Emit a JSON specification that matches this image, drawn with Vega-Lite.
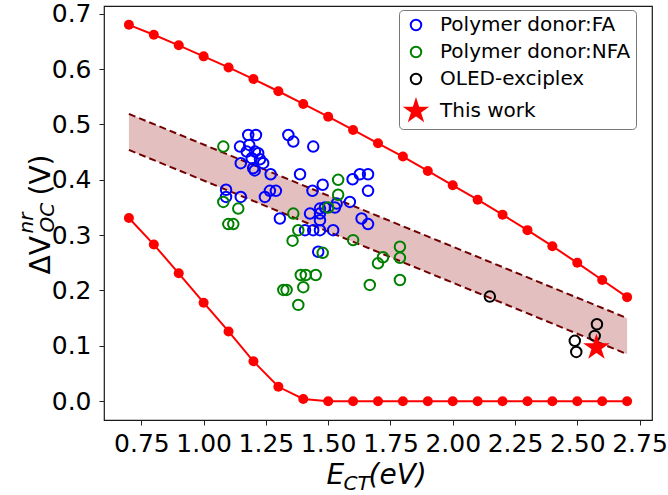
{
  "$schema": "https://vega.github.io/schema/vega-lite/v6.json",
  "width": 548,
  "height": 414,
  "autosize": {"type": "none"},
  "padding": {"left": 104, "top": 6, "right": 16, "bottom": 75},
  "background": "white",
  "config": {
    "font": "DejaVu Sans",
    "view": {"stroke": "#1a1a1a", "strokeWidth": 1.2},
    "axis": {"grid": false, "domain": false, "labelColor": "#000000", "titleColor": "#000000", "tickColor": "#222222", "labelFont": "DejaVu Sans", "titleFont": "DejaVu Sans", "titleFontWeight": "normal"}
  },
  "datasets": {
    "band": [
      {"x": 0.7, "lo": 0.454, "hi": 0.519},
      {"x": 2.7, "lo": 0.085, "hi": 0.150}
    ],
    "curves": [
      {"x": 0.7, "up": 0.680, "low": 0.331},
      {"x": 0.8, "up": 0.662, "low": 0.283},
      {"x": 0.9, "up": 0.643, "low": 0.231},
      {"x": 1.0, "up": 0.623, "low": 0.178},
      {"x": 1.1, "up": 0.603, "low": 0.126},
      {"x": 1.2, "up": 0.582, "low": 0.072},
      {"x": 1.3, "up": 0.560, "low": 0.026},
      {"x": 1.4, "up": 0.537, "low": 0.004},
      {"x": 1.5, "up": 0.514, "low": 0},
      {"x": 1.6, "up": 0.490, "low": 0},
      {"x": 1.7, "up": 0.466, "low": 0},
      {"x": 1.8, "up": 0.442, "low": 0},
      {"x": 1.9, "up": 0.416, "low": 0},
      {"x": 2.0, "up": 0.390, "low": 0},
      {"x": 2.1, "up": 0.364, "low": 0},
      {"x": 2.2, "up": 0.337, "low": 0},
      {"x": 2.3, "up": 0.309, "low": 0},
      {"x": 2.4, "up": 0.280, "low": 0},
      {"x": 2.5, "up": 0.250, "low": 0},
      {"x": 2.6, "up": 0.219, "low": 0},
      {"x": 2.7, "up": 0.188, "low": 0}
    ],
    "pts": [
      {"x": 1.09, "y": 0.382, "series": "Polymer donor:FA"},
      {"x": 1.09, "y": 0.369, "series": "Polymer donor:FA"},
      {"x": 1.146, "y": 0.460, "series": "Polymer donor:FA"},
      {"x": 1.149, "y": 0.430, "series": "Polymer donor:FA"},
      {"x": 1.149, "y": 0.369, "series": "Polymer donor:FA"},
      {"x": 1.179, "y": 0.481, "series": "Polymer donor:FA"},
      {"x": 1.210, "y": 0.481, "series": "Polymer donor:FA"},
      {"x": 1.183, "y": 0.463, "series": "Polymer donor:FA"},
      {"x": 1.173, "y": 0.451, "series": "Polymer donor:FA"},
      {"x": 1.206, "y": 0.451, "series": "Polymer donor:FA"},
      {"x": 1.219, "y": 0.448, "series": "Polymer donor:FA"},
      {"x": 1.193, "y": 0.439, "series": "Polymer donor:FA"},
      {"x": 1.226, "y": 0.437, "series": "Polymer donor:FA"},
      {"x": 1.239, "y": 0.430, "series": "Polymer donor:FA"},
      {"x": 1.199, "y": 0.421, "series": "Polymer donor:FA"},
      {"x": 1.205, "y": 0.417, "series": "Polymer donor:FA"},
      {"x": 1.269, "y": 0.410, "series": "Polymer donor:FA"},
      {"x": 1.246, "y": 0.369, "series": "Polymer donor:FA"},
      {"x": 1.266, "y": 0.380, "series": "Polymer donor:FA"},
      {"x": 1.290, "y": 0.380, "series": "Polymer donor:FA"},
      {"x": 1.306, "y": 0.330, "series": "Polymer donor:FA"},
      {"x": 1.340, "y": 0.481, "series": "Polymer donor:FA"},
      {"x": 1.360, "y": 0.469, "series": "Polymer donor:FA"},
      {"x": 1.387, "y": 0.410, "series": "Polymer donor:FA"},
      {"x": 1.440, "y": 0.460, "series": "Polymer donor:FA"},
      {"x": 1.478, "y": 0.391, "series": "Polymer donor:FA"},
      {"x": 1.437, "y": 0.380, "series": "Polymer donor:FA"},
      {"x": 1.598, "y": 0.401, "series": "Polymer donor:FA"},
      {"x": 1.627, "y": 0.410, "series": "Polymer donor:FA"},
      {"x": 1.660, "y": 0.410, "series": "Polymer donor:FA"},
      {"x": 1.660, "y": 0.380, "series": "Polymer donor:FA"},
      {"x": 1.587, "y": 0.360, "series": "Polymer donor:FA"},
      {"x": 1.634, "y": 0.330, "series": "Polymer donor:FA"},
      {"x": 1.660, "y": 0.320, "series": "Polymer donor:FA"},
      {"x": 1.467, "y": 0.348, "series": "Polymer donor:FA"},
      {"x": 1.487, "y": 0.350, "series": "Polymer donor:FA"},
      {"x": 1.527, "y": 0.350, "series": "Polymer donor:FA"},
      {"x": 1.534, "y": 0.357, "series": "Polymer donor:FA"},
      {"x": 1.427, "y": 0.339, "series": "Polymer donor:FA"},
      {"x": 1.467, "y": 0.339, "series": "Polymer donor:FA"},
      {"x": 1.467, "y": 0.327, "series": "Polymer donor:FA"},
      {"x": 1.407, "y": 0.309, "series": "Polymer donor:FA"},
      {"x": 1.440, "y": 0.309, "series": "Polymer donor:FA"},
      {"x": 1.467, "y": 0.309, "series": "Polymer donor:FA"},
      {"x": 1.520, "y": 0.309, "series": "Polymer donor:FA"},
      {"x": 1.460, "y": 0.270, "series": "Polymer donor:FA"},
      {"x": 1.079, "y": 0.460, "series": "Polymer donor:NFA"},
      {"x": 1.079, "y": 0.360, "series": "Polymer donor:NFA"},
      {"x": 1.139, "y": 0.348, "series": "Polymer donor:NFA"},
      {"x": 1.099, "y": 0.320, "series": "Polymer donor:NFA"},
      {"x": 1.119, "y": 0.320, "series": "Polymer donor:NFA"},
      {"x": 1.360, "y": 0.339, "series": "Polymer donor:NFA"},
      {"x": 1.380, "y": 0.309, "series": "Polymer donor:NFA"},
      {"x": 1.357, "y": 0.290, "series": "Polymer donor:NFA"},
      {"x": 1.540, "y": 0.400, "series": "Polymer donor:NFA"},
      {"x": 1.540, "y": 0.373, "series": "Polymer donor:NFA"},
      {"x": 1.500, "y": 0.350, "series": "Polymer donor:NFA"},
      {"x": 1.600, "y": 0.291, "series": "Polymer donor:NFA"},
      {"x": 1.478, "y": 0.268, "series": "Polymer donor:NFA"},
      {"x": 1.700, "y": 0.249, "series": "Polymer donor:NFA"},
      {"x": 1.720, "y": 0.260, "series": "Polymer donor:NFA"},
      {"x": 1.788, "y": 0.279, "series": "Polymer donor:NFA"},
      {"x": 1.788, "y": 0.259, "series": "Polymer donor:NFA"},
      {"x": 1.788, "y": 0.219, "series": "Polymer donor:NFA"},
      {"x": 1.667, "y": 0.210, "series": "Polymer donor:NFA"},
      {"x": 1.390, "y": 0.228, "series": "Polymer donor:NFA"},
      {"x": 1.410, "y": 0.228, "series": "Polymer donor:NFA"},
      {"x": 1.450, "y": 0.228, "series": "Polymer donor:NFA"},
      {"x": 1.400, "y": 0.206, "series": "Polymer donor:NFA"},
      {"x": 1.320, "y": 0.201, "series": "Polymer donor:NFA"},
      {"x": 1.333, "y": 0.201, "series": "Polymer donor:NFA"},
      {"x": 1.380, "y": 0.174, "series": "Polymer donor:NFA"},
      {"x": 2.149, "y": 0.189, "series": "OLED-exciplex"},
      {"x": 2.579, "y": 0.139, "series": "OLED-exciplex"},
      {"x": 2.570, "y": 0.118, "series": "OLED-exciplex"},
      {"x": 2.490, "y": 0.109, "series": "OLED-exciplex"},
      {"x": 2.496, "y": 0.089, "series": "OLED-exciplex"},
      {"x": 2.577, "y": 0.097, "series": "This work"}
    ]
  },
  "layer": [
    {
      "data": {"name": "band"},
      "mark": {"type": "area", "color": "#a52a2a", "opacity": 0.3},
      "encoding": {
        "x": {"field": "x", "type": "quantitative", "scale": {"domain": [0.6, 2.8], "nice": false, "zero": false},
          "axis": {"orient": "bottom", "values": [0.75, 1.0, 1.25, 1.5, 1.75, 2.0, 2.25, 2.5, 2.75], "format": ".2f", "labelFontSize": 25, "tickSize": 5, "labelPadding": 6, "labelFlush": false, "labelOverlap": false,
            "title": "E", "titleFontSize": 28, "titleFontStyle": "italic", "titleX": 222, "titleY": 63, "titleAlign": "left", "titleBaseline": "alphabetic"}},
        "y": {"field": "hi", "type": "quantitative", "scale": {"domain": [-0.034, 0.714], "nice": false, "zero": false},
          "axis": {"orient": "left", "values": [0, 0.1, 0.2, 0.3, 0.4, 0.5, 0.6, 0.7], "format": ".1f", "labelFontSize": 25, "tickSize": 5, "labelPadding": 8, "labelFlush": false, "labelOverlap": false,
            "title": "ΔV", "titleFontSize": 28, "titleAngle": -90, "titleX": -55, "titleY": 268, "titleAlign": "left", "titleBaseline": "alphabetic"}},
        "y2": {"field": "lo"}
      }
    },
    {
      "data": {"name": "band"},
      "mark": {"type": "line", "color": "#700000", "strokeWidth": 2, "strokeDash": [7, 4]},
      "encoding": {
        "x": {"field": "x", "type": "quantitative", "scale": {"domain": [0.6, 2.8], "nice": false, "zero": false},
          "axis": {"orient": "bottom", "labels": false, "ticks": false, "domain": false, "title": "CT", "titleFontSize": 20, "titleFontStyle": "italic", "titleX": 239, "titleY": 69, "titleAlign": "left", "titleBaseline": "alphabetic"}},
        "y": {"field": "hi", "type": "quantitative", "scale": {"domain": [-0.034, 0.714], "nice": false, "zero": false},
          "axis": {"orient": "left", "labels": false, "ticks": false, "domain": false, "title": "OC", "titleFontSize": 20, "titleFontStyle": "italic", "titleAngle": -90, "titleX": -51, "titleY": 226, "titleAlign": "left", "titleBaseline": "alphabetic"}}
      }
    },
    {
      "data": {"name": "band"},
      "mark": {"type": "line", "color": "#700000", "strokeWidth": 2, "strokeDash": [7, 4]},
      "encoding": {
        "x": {"field": "x", "type": "quantitative", "scale": {"domain": [0.6, 2.8], "nice": false, "zero": false},
          "axis": {"orient": "bottom", "labels": false, "ticks": false, "domain": false, "title": "(eV)", "titleFontSize": 28, "titleFontStyle": "italic", "titleX": 264, "titleY": 63, "titleAlign": "left", "titleBaseline": "alphabetic"}},
        "y": {"field": "lo", "type": "quantitative", "scale": {"domain": [-0.034, 0.714], "nice": false, "zero": false},
          "axis": {"orient": "left", "labels": false, "ticks": false, "domain": false, "title": "nr", "titleFontSize": 20, "titleFontStyle": "italic", "titleAngle": -90, "titleX": -72, "titleY": 227, "titleAlign": "left", "titleBaseline": "alphabetic"}}
      }
    },
    {
      "data": {"name": "curves"},
      "mark": {"type": "line", "color": "#ff0000", "strokeWidth": 2, "point": {"filled": true, "size": 100, "color": "#ff0000", "opacity": 1}},
      "encoding": {
        "x": {"field": "x", "type": "quantitative", "scale": {"domain": [0.6, 2.8], "nice": false, "zero": false}, "axis": null},
        "y": {"field": "up", "type": "quantitative", "scale": {"domain": [-0.034, 0.714], "nice": false, "zero": false},
          "axis": {"orient": "left", "labels": false, "ticks": false, "domain": false, "title": "(V)", "titleFontSize": 28, "titleAngle": -90, "titleX": -55, "titleY": 189, "titleAlign": "left", "titleBaseline": "alphabetic"}}
      }
    },
    {
      "data": {"name": "curves"},
      "mark": {"type": "line", "color": "#ff0000", "strokeWidth": 2, "point": {"filled": true, "size": 100, "color": "#ff0000", "opacity": 1}},
      "encoding": {
        "x": {"field": "x", "type": "quantitative", "scale": {"domain": [0.6, 2.8], "nice": false, "zero": false}, "axis": null},
        "y": {"field": "low", "type": "quantitative", "scale": {"domain": [-0.034, 0.714], "nice": false, "zero": false}, "axis": null}
      }
    },
    {
      "data": {"name": "pts"},
      "mark": {"type": "point", "strokeWidth": 2, "opacity": 1},
      "encoding": {
        "x": {"field": "x", "type": "quantitative", "scale": {"domain": [0.6, 2.8], "nice": false, "zero": false}, "axis": null},
        "y": {"field": "y", "type": "quantitative", "scale": {"domain": [-0.034, 0.714], "nice": false, "zero": false}, "axis": null},
        "stroke": {"field": "series", "type": "nominal",
          "scale": {"domain": ["Polymer donor:FA", "Polymer donor:NFA", "OLED-exciplex", "This work"], "range": ["#0000ff", "#008000", "#000000", "#ff0000"]},
          "legend": {"title": null, "orient": "none", "legendX": 295, "legendY": 4, "labelFontSize": 20, "labelFont": "DejaVu Sans", "labelColor": "#000000", "symbolStrokeWidth": 2, "padding": 5, "rowPadding": 7, "labelOffset": 12, "strokeColor": "#777777", "cornerRadius": 4, "fillColor": "white", "labelLimit": 400}},
        "fill": {"field": "series", "type": "nominal",
          "scale": {"domain": ["Polymer donor:FA", "Polymer donor:NFA", "OLED-exciplex", "This work"], "range": ["transparent", "transparent", "transparent", "#ff0000"]},
          "legend": {"title": null, "orient": "none", "legendX": 295, "legendY": 4, "labelFontSize": 20, "labelFont": "DejaVu Sans", "labelColor": "#000000", "symbolStrokeWidth": 2, "padding": 5, "rowPadding": 7, "labelOffset": 12, "strokeColor": "#777777", "cornerRadius": 4, "fillColor": "white", "labelLimit": 400}},
        "shape": {"field": "series", "type": "nominal",
          "scale": {"domain": ["Polymer donor:FA", "Polymer donor:NFA", "OLED-exciplex", "This work"], "range": ["circle", "circle", "circle", "M0,-1L0.225,-0.309L0.951,-0.309L0.363,0.118L0.588,0.809L0,0.382L-0.588,0.809L-0.363,0.118L-0.951,-0.309L-0.225,-0.309Z"]},
          "legend": {"title": null, "orient": "none", "legendX": 295, "legendY": 4, "labelFontSize": 20, "labelFont": "DejaVu Sans", "labelColor": "#000000", "symbolStrokeWidth": 2, "padding": 5, "rowPadding": 7, "labelOffset": 12, "strokeColor": "#777777", "cornerRadius": 4, "fillColor": "white", "labelLimit": 400}},
        "size": {"field": "series", "type": "nominal",
          "scale": {"type": "ordinal", "domain": ["Polymer donor:FA", "Polymer donor:NFA", "OLED-exciplex", "This work"], "range": [110, 110, 110, 460]},
          "legend": {"title": null, "orient": "none", "legendX": 295, "legendY": 4, "labelFontSize": 20, "labelFont": "DejaVu Sans", "labelColor": "#000000", "symbolStrokeWidth": 2, "padding": 5, "rowPadding": 7, "labelOffset": 12, "strokeColor": "#777777", "cornerRadius": 4, "fillColor": "white", "labelLimit": 400}}
      }
    }
  ],
  "resolve": {"axis": {"x": "independent", "y": "independent"}}
}
